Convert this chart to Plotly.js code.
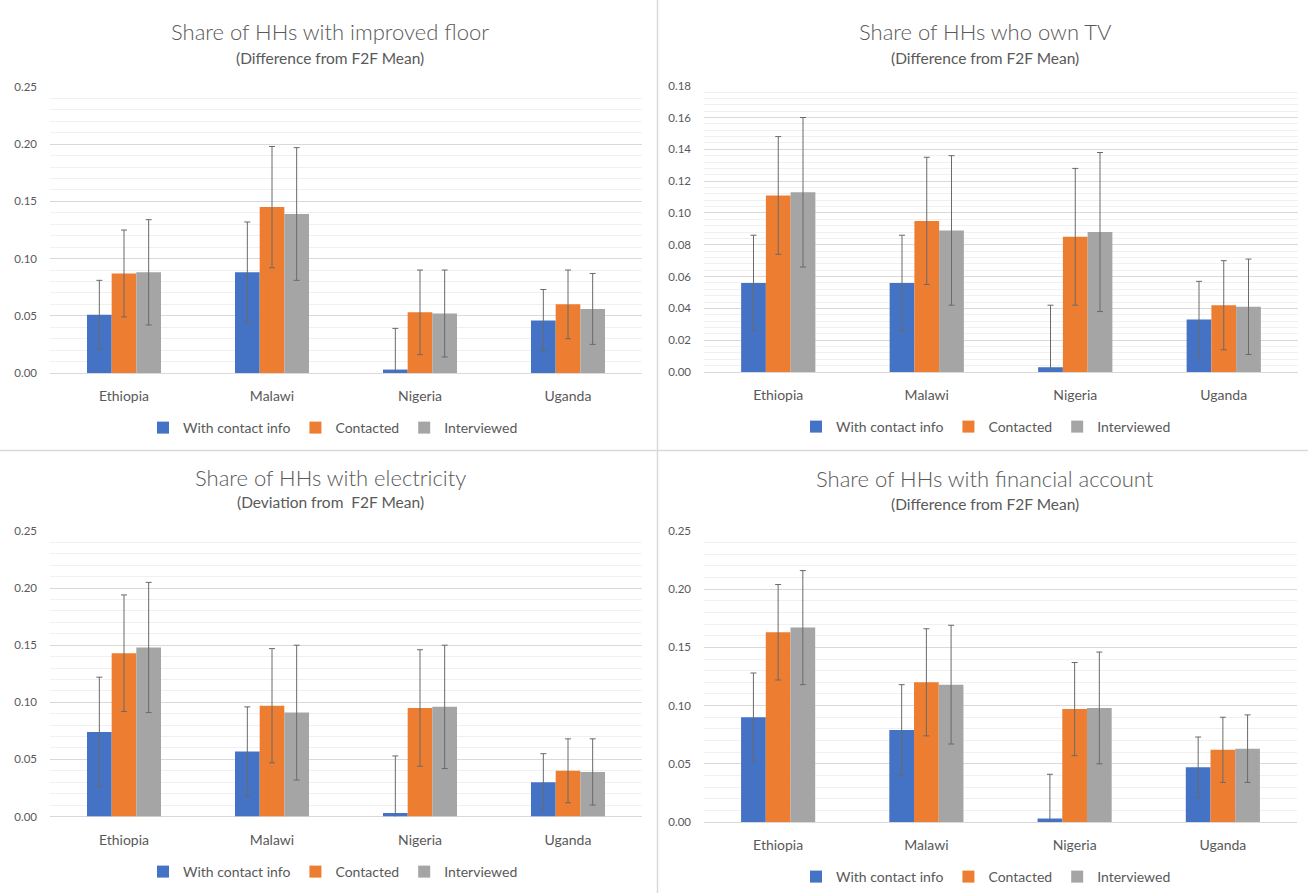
<!DOCTYPE html>
<html>
<head>
<meta charset="utf-8">
<script src="https://cdn.plot.ly/plotly-3.0.1.min.js"></script>
<style>
  html, body { margin: 0; padding: 0; background: #ffffff; }
  #chart { width: 1308px; height: 893px; }
</style>
</head>
<body>
<div id="chart"></div>
<script>
// Countries on every category axis
const countries = ['Ethiopia', 'Malawi', 'Nigeria', 'Uganda'];
const seriesNames = ['With contact info', 'Contacted', 'Interviewed'];

// Improved floor: difference from F2F mean, with error margins
const floorContact = [0.051, 0.088, 0.003, 0.046];
const floorContactErr = [0.030, 0.044, 0.036, 0.027];
const floorContacted = [0.087, 0.145, 0.053, 0.060];
const floorContactedErr = [0.038, 0.053, 0.037, 0.030];
const floorInterviewed = [0.088, 0.139, 0.052, 0.056];
const floorInterviewedErr = [0.046, 0.058, 0.038, 0.031];

// TV ownership
const tvContact = [0.056, 0.056, 0.003, 0.033];
const tvContactErr = [0.030, 0.030, 0.039, 0.024];
const tvContacted = [0.111, 0.095, 0.085, 0.042];
const tvContactedErr = [0.037, 0.040, 0.043, 0.028];
const tvInterviewed = [0.113, 0.089, 0.088, 0.041];
const tvInterviewedErr = [0.047, 0.047, 0.050, 0.030];

// Electricity
const elecContact = [0.074, 0.057, 0.003, 0.030];
const elecContactErr = [0.048, 0.039, 0.050, 0.025];
const elecContacted = [0.143, 0.097, 0.095, 0.040];
const elecContactedErr = [0.051, 0.050, 0.051, 0.028];
const elecInterviewed = [0.148, 0.091, 0.096, 0.039];
const elecInterviewedErr = [0.057, 0.059, 0.054, 0.029];

// Financial account
const finContact = [0.090, 0.079, 0.003, 0.047];
const finContactErr = [0.038, 0.039, 0.038, 0.026];
const finContacted = [0.163, 0.120, 0.097, 0.062];
const finContactedErr = [0.041, 0.046, 0.040, 0.028];
const finInterviewed = [0.167, 0.118, 0.098, 0.063];
const finInterviewedErr = [0.049, 0.051, 0.048, 0.029];

// Panel titles
const titles = [
  'Share of HHs with improved floor',
  'Share of HHs who own TV',
  'Share of HHs with electricity',
  'Share of HHs with financial account'
];
const subtitles = [
  '(Difference from F2F Mean)',
  '(Difference from F2F Mean)',
  '(Deviation from  F2F Mean)',
  '(Difference from F2F Mean)'
];

const W = 1308, H = 893;
const FONT = 'Lato, "Open Sans", sans-serif';
const TEXT = '#595959';
const colors = ['#4472C4', '#ED7D31', '#A5A5A5'];

// Pixel layout of each panel: plot box, axis range, label positions
const panels = [
  { x0: 50, x1: 642, yTop: 87, yBot: 373, max: 0.25, major: 0.05, minor: 0.01,
    cx: 330, titleY: 32, subY: 58, legX: 333, legY: 428,
    data: [[floorContact, floorContactErr], [floorContacted, floorContactedErr], [floorInterviewed, floorInterviewedErr]] },
  { x0: 704, x1: 1298, yTop: 85.7, yBot: 372, max: 0.18, major: 0.02, minor: 0.004,
    cx: 985, titleY: 32, subY: 58, legX: 986, legY: 427,
    data: [[tvContact, tvContactErr], [tvContacted, tvContactedErr], [tvInterviewed, tvInterviewedErr]] },
  { x0: 50, x1: 642, yTop: 531, yBot: 816.5, max: 0.25, major: 0.05, minor: 0.01,
    cx: 330, titleY: 477, subY: 502, legX: 333, legY: 872,
    data: [[elecContact, elecContactErr], [elecContacted, elecContactedErr], [elecInterviewed, elecInterviewedErr]] },
  { x0: 704, x1: 1297, yTop: 531, yBot: 822, max: 0.25, major: 0.05, minor: 0.01,
    cx: 985, titleY: 478, subY: 504, legX: 986, legY: 877,
    data: [[finContact, finContactErr], [finContacted, finContactedErr], [finInterviewed, finInterviewedErr]] }
];

const traces = [];
const layout = {
  width: W, height: H,
  margin: { l: 0, r: 0, t: 0, b: 0 },
  paper_bgcolor: '#ffffff',
  plot_bgcolor: '#ffffff',
  barmode: 'group',
  bargap: 0.5,
  bargroupgap: 0,
  font: { family: FONT, color: TEXT },
  annotations: [],
  shapes: [
    // panel dividers
    { type: 'line', xref: 'paper', yref: 'paper', x0: 657.5 / W, x1: 657.5 / W, y0: 0, y1: 1,
      line: { color: '#d9d9d9', width: 1.5 } },
    { type: 'line', xref: 'paper', yref: 'paper', x0: 0, x1: 1, y0: 1 - 450.5 / H, y1: 1 - 450.5 / H,
      line: { color: '#d9d9d9', width: 1.5 } }
  ]
};

panels.forEach((p, i) => {
  const n = i + 1;
  const xa = n === 1 ? 'x' : 'x' + n;
  const ya = n === 1 ? 'y' : 'y' + n;
  const legName = n === 1 ? 'legend' : 'legend' + n;

  p.data.forEach((pair, s) => {
    traces.push({
      type: 'bar',
      name: seriesNames[s],
      x: countries,
      y: pair[0],
      xaxis: xa, yaxis: ya,
      legend: legName,
      marker: { color: colors[s], line: { width: 0 } },
      error_y: { type: 'data', array: pair[1], symmetric: true,
                 color: '#6a6a6a', thickness: 1, width: 3 },
      hoverinfo: 'skip'
    });
  });

  layout[n === 1 ? 'xaxis' : 'xaxis' + n] = {
    domain: [p.x0 / W, p.x1 / W],
    anchor: ya,
    type: 'category',
    showgrid: false, zeroline: false,
    showline: false, ticks: '',
    ticklabelstandoff: 13,
    tickfont: { family: FONT, size: 14, color: TEXT },
    fixedrange: true
  };
  layout[n === 1 ? 'yaxis' : 'yaxis' + n] = {
    domain: [1 - p.yBot / H, 1 - p.yTop / H],
    anchor: xa,
    range: [0, p.max],
    dtick: p.major,
    tick0: 0,
    tickformat: '.2f',
    showgrid: true, gridcolor: '#d9d9d9', gridwidth: 1,
    zeroline: true, zerolinecolor: '#d9d9d9', zerolinewidth: 1,
    minor: { dtick: p.minor, tick0: 0, showgrid: true, gridcolor: '#f0f0f0', gridwidth: 1 },
    showline: false, ticks: '',
    ticklabelstandoff: 12,
    tickfont: { family: FONT, size: 11.5, color: TEXT },
    fixedrange: true
  };

  layout[legName] = {
    orientation: 'h',
    x: p.legX / W, xanchor: 'center',
    y: 1 - p.legY / H, yanchor: 'middle',
    font: { family: FONT, size: 14, color: TEXT },
    bgcolor: 'rgba(0,0,0,0)',
    itemwidth: 30,
    traceorder: 'normal'
  };

  layout.annotations.push({
    xref: 'paper', yref: 'paper', x: p.cx / W, y: 1 - p.titleY / H,
    xanchor: 'center', yanchor: 'middle', showarrow: false,
    text: titles[i], font: { family: FONT, size: 22, weight: 300, color: TEXT }
  });
  layout.annotations.push({
    xref: 'paper', yref: 'paper', x: p.cx / W, y: 1 - p.subY / H,
    xanchor: 'center', yanchor: 'middle', showarrow: false,
    text: subtitles[i], font: { family: FONT, size: 15.5, weight: 400, color: TEXT }
  });
});

Plotly.newPlot('chart', traces, layout, { displayModeBar: false, staticPlot: true });
</script>
</body>
</html>
